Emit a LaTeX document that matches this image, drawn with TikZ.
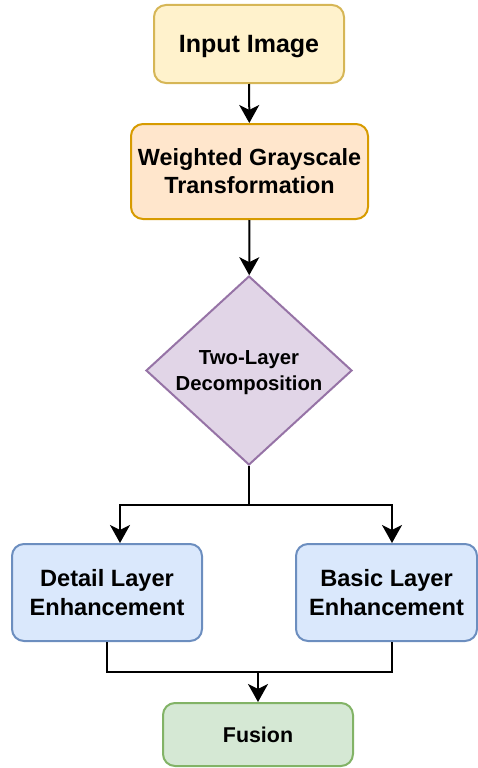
\documentclass[tikz,border=0pt]{standalone}
\usepackage{fontspec}
\setmainfont{Liberation Sans}
\usetikzlibrary{shapes.geometric,arrows.meta}

\definecolor{yelFill}{HTML}{FFF2CC}
\definecolor{yelLine}{HTML}{D6B656}
\definecolor{oraFill}{HTML}{FFE6CC}
\definecolor{oraLine}{HTML}{D79B00}
\definecolor{purFill}{HTML}{E1D5E7}
\definecolor{purLine}{HTML}{9673A6}
\definecolor{bluFill}{HTML}{DAE8FC}
\definecolor{bluLine}{HTML}{6C8EBF}
\definecolor{grnFill}{HTML}{D5E8D4}
\definecolor{grnLine}{HTML}{82B366}

\begin{document}
\begin{tikzpicture}[x=1pt,y=-1pt,
  box/.style={draw, line width=2pt, rounded corners=12pt, align=center, inner sep=0pt, text depth=0pt},
  flow/.style={line width=2pt, -{Stealth[length=18pt,width=20pt,inset=5pt]}},
  link/.style={line width=2pt},
  fs/.style 2 args={font=\fontsize{#1}{#2}\selectfont\bfseries}]
\useasboundingbox (0,0) rectangle (478,768);

% process boxes
\node[box, fill=yelFill, draw=yelLine, minimum width=190pt, minimum height=78pt, fs={25}{29}] (inp) at (249,44) {Input Image};
\node[box, fill=oraFill, draw=oraLine, minimum width=237pt, minimum height=95pt, fs={23.4}{28}] (wgt) at (249.5,171.5) {Weighted Grayscale\\Transformation};

% decision diamond with its label
\node[diamond, draw=purLine, fill=purFill, line width=2pt, minimum width=206pt, minimum height=189pt, inner sep=0pt] (dec) at (249,370.5) {};
\node[align=center, fs={20.3}{26.3}, text depth=0pt] (dect) at (dec.center) {Two-Layer\\Decomposition};

\node[box, fill=bluFill, draw=bluLine, minimum width=190pt, minimum height=97pt, fs={23.6}{29}] (det) at (107,592.5) {Detail Layer\\Enhancement};
\node[box, fill=bluFill, draw=bluLine, minimum width=181pt, minimum height=97pt, fs={23.6}{29}] (bas) at (386.5,592.5) {Basic Layer\\Enhancement};
\node[box, fill=grnFill, draw=grnLine, minimum width=190pt, minimum height=63pt, fs={21.4}{25}] (fus) at (258,734.5) {Fusion};

% connectors
\draw[flow] (inp) -- (wgt);
\draw[flow] (wgt) -- (dec);
\coordinate (split) at (249,505);
\draw[link] (dec.south) -- (split);
\draw[flow] (split) -| ([xshift=13pt]det.north);
\draw[flow] (split) -| ([xshift=5.5pt]bas.north);
\coordinate (join) at (258,672);
\draw[link] (det.south) |- (join);
\draw[link] ([xshift=5.5pt]bas.south) |- (join);
\draw[flow] (join) -- (fus.north);
\end{tikzpicture}
\end{document}
